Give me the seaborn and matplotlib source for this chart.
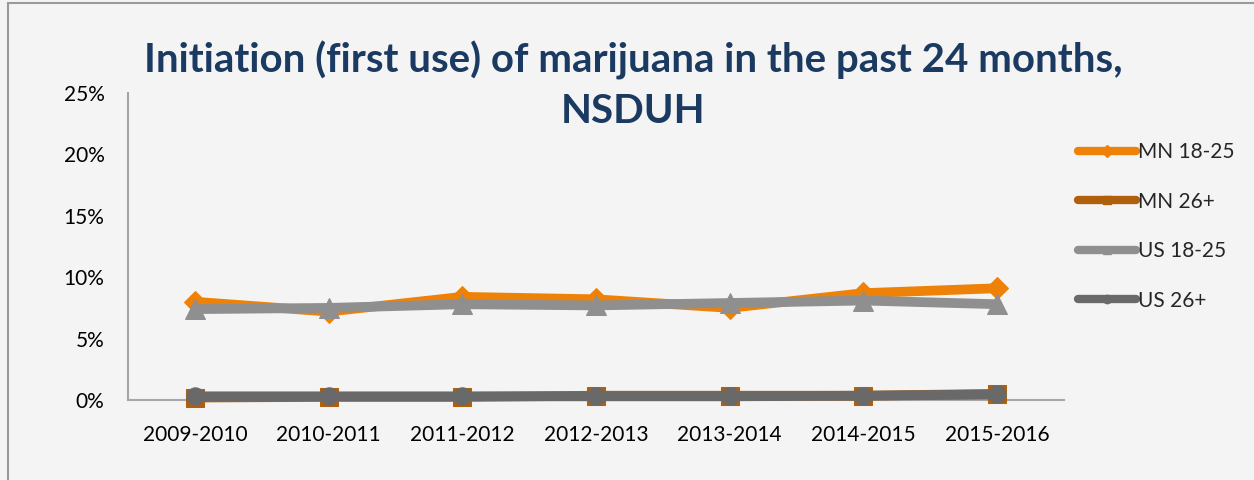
import matplotlib
matplotlib.use("Agg")
import matplotlib.pyplot as plt
from matplotlib.lines import Line2D
from matplotlib.patches import Rectangle
from matplotlib.ticker import FuncFormatter
import pandas as pd
import seaborn as sns

# Survey periods and initiation rates (% of population)
periods = ["2009-2010", "2010-2011", "2011-2012", "2012-2013",
           "2013-2014", "2014-2015", "2015-2016"]
mn_18_25 = [8.0, 7.2, 8.4, 8.2, 7.5, 8.7, 9.1]
mn_26p = [0.2, 0.25, 0.25, 0.35, 0.35, 0.35, 0.5]
us_18_25 = [7.4, 7.5, 7.8, 7.7, 7.9, 8.1, 7.8]
us_26p = [0.3, 0.3, 0.3, 0.3, 0.3, 0.35, 0.45]
series_names = ["MN 18-25", "MN 26+", "US 18-25", "US 26+"]
series_values = [mn_18_25, mn_26p, us_18_25, us_26p]
y_ticks = [0, 5, 10, 15, 20, 25]

df = pd.DataFrame({
    "period": periods * len(series_names),
    "series": [s for s in series_names for _ in periods],
    "value": [v for vals in series_values for v in vals],
})

styles = {
    "MN 18-25": dict(color="#EE8208", marker="D", ms=11),
    "MN 26+": dict(color="#B0600A", marker="s", ms=13.5),
    "US 18-25": dict(color="#8F8F8F", marker="^", ms=14),
    "US 26+": dict(color="#696969", marker="o", ms=12.5),
}

sns.set_theme(style="white")
plt.rcParams["font.family"] = ["Lato", "DejaVu Sans"]
bg = "#F4F4F4"

fig = plt.figure(figsize=(12.54, 4.8), dpi=100, facecolor=bg)
ax = fig.add_axes([128 / 1254, 80 / 480, 936 / 1254, 307 / 480], facecolor=bg)

for name in series_names:
    st = styles[name]
    sns.lineplot(data=df[df["series"] == name], x="period", y="value",
                 color=st["color"], marker=st["marker"], markersize=st["ms"],
                 markeredgecolor=st["color"], linewidth=7, sort=False,
                 clip_on=False, ax=ax, legend=False)

ax.set_xlim(-0.5, len(periods) - 0.5)
ax.set_ylim(0, 25)
ax.set_yticks(y_ticks)
ax.yaxis.set_major_formatter(FuncFormatter(lambda v, _: f"{v:.0f}%"))
ax.set_xlabel("")
ax.set_ylabel("")
ax.tick_params(axis="both", length=0, labelsize=15, colors="black")
ax.tick_params(axis="y", pad=17)
ax.tick_params(axis="x", pad=18)
for side in ("top", "right"):
    ax.spines[side].set_visible(False)
for side in ("left", "bottom"):
    ax.spines[side].set_color("#A6A6A6")
    ax.spines[side].set_linewidth(1.5)
    ax.spines[side].set_zorder(0.5)

fig.text(0.505, 0.822, "Initiation (first use) of marijuana in the past 24 months,\nNSDUH",
         ha="center", va="center", fontsize=29, fontweight="bold",
         color="#1B3A61", linespacing=1.45)

handles = [Line2D([], [], color=styles[n]["color"], lw=6, solid_capstyle="round",
                  marker=styles[n]["marker"], ms=6, markeredgecolor=styles[n]["color"])
           for n in series_names]
fig.legend(handles, series_names, loc="upper left",
           bbox_to_anchor=(1078 / 1254, 1 - 142 / 480), frameon=False,
           fontsize=15, handlelength=2.8, handletextpad=0.1, labelspacing=1.42,
           borderaxespad=0, borderpad=0)

fig.add_artist(Rectangle((8 / 1254, -0.1), 1.2, 1.1 - 3 / 480,
                         transform=fig.transFigure, fill=False,
                         edgecolor="#9A9A9A", linewidth=1.5))

fig.savefig("out.png", dpi=100, facecolor=bg)
